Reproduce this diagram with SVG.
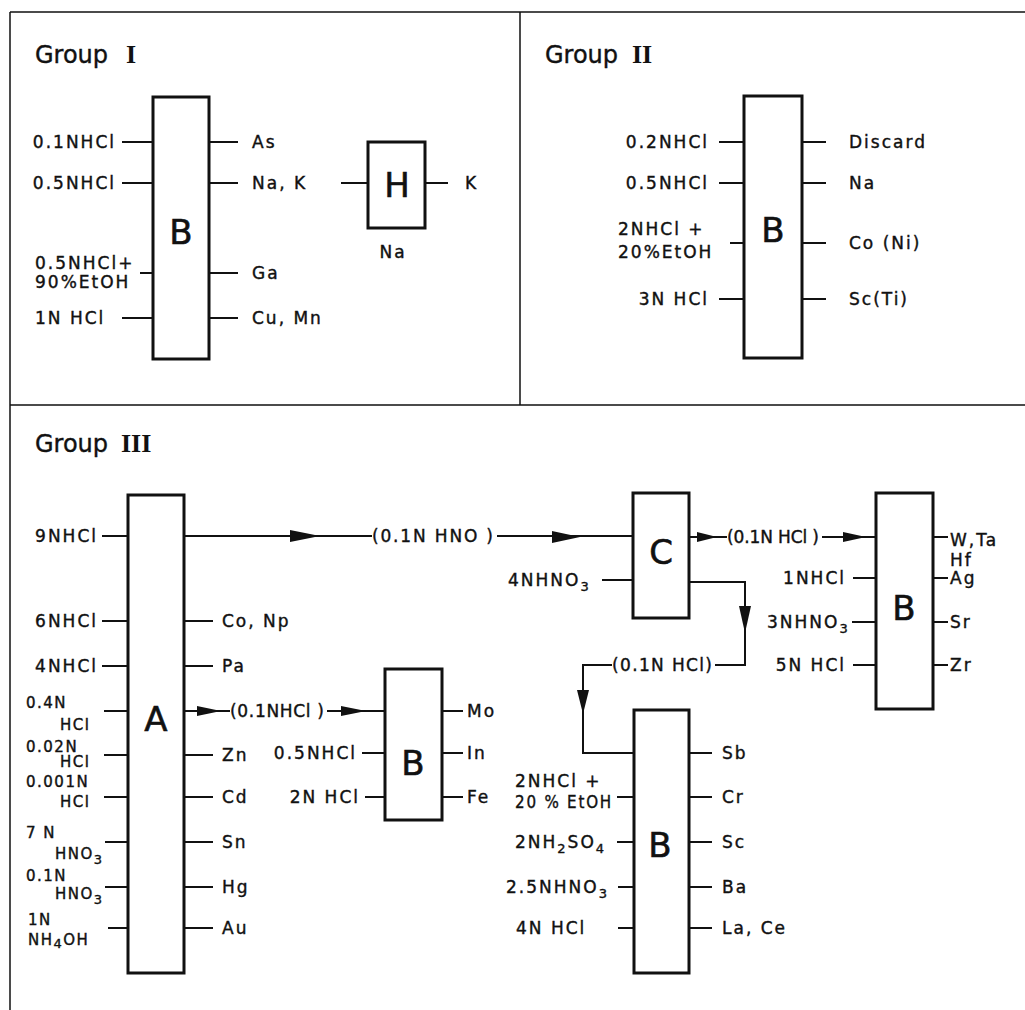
<svg xmlns="http://www.w3.org/2000/svg" width="1025" height="1010" viewBox="0 0 1025 1010">
<style>
.t{font-family:"DejaVu Sans","Liberation Sans",sans-serif;font-size:17px;letter-spacing:2px;fill:#111;stroke:#111;stroke-width:0.4}
.n{font-size:15px;letter-spacing:1.5px}
.e{text-anchor:end}
.s{font-size:13px}
.big{font-family:"DejaVu Sans","Liberation Sans",sans-serif;font-size:34px;text-anchor:middle;fill:#111;stroke:#111;stroke-width:0.6}
.hd{font-family:"DejaVu Sans","Liberation Sans",sans-serif;font-size:24px;fill:#111;stroke:#111;stroke-width:0.4}
.rn{font-family:"Liberation Serif",serif;font-size:26px;font-weight:bold;fill:#111}
.box{fill:#fff;stroke:#111;stroke-width:3}
.ln{stroke:#111;stroke-width:2;fill:none}
.fr{stroke:#111;stroke-width:1.5;fill:none}
.ah{fill:#111}
</style>
<g id="frame">
<path class="fr" d="M10 12H1025M10 12V1010M520 12V405M10 405H1025"/>
<text class="hd" x="35" y="63">Group</text><text class="rn" x="126" y="63">I</text>
<text class="hd" x="545" y="63">Group</text><text class="rn" x="632" y="63">II</text>
<text class="hd" x="35" y="452">Group</text><text class="rn" x="121" y="452">III</text>
</g>
<g id="connectors">
<path class="ln" d="M122 142H153M122 183H153M140 273H153M122 318H153M209 142H238M209 183H238M209 273H238M209 318H238M341 183H368M425 183H448"/>
<path class="ln" d="M719 142H744M719 183H744M730 243H744M719 299H744M802 142H826M802 183H826M802 243H826M802 299H826"/>
<path class="ln" d="M102 536H128M102 621H128M102 666H128M104 711H128M104 755H128M104 797H128M105 842H128M105 887H128M108 928H128"/>
<path class="ln" d="M184 621H213M184 666H213M184 755H213M184 797H213M184 842H213M184 887H213M184 928H213"/>
<path class="ln" d="M184 536H372M497 536H633"/>
<polygon class="ah" points="290,530 320,536 290,542"/>
<polygon class="ah" points="552,531 580,537 552,543"/>
<path class="ln" d="M184 711H230M327 711H385"/>
<polygon class="ah" points="197,706 221,711 197,716"/>
<polygon class="ah" points="341,706 366,711 341,716"/>
<path class="ln" d="M362 753H385M365 797H385M442 711H463M442 753H463M442 797H463"/>
<path class="ln" d="M602 580H633M689 537H727M822 537H876"/>
<polygon class="ah" points="697,532 717,537 697,542"/>
<polygon class="ah" points="843,532 866,537 843,542"/>
<path class="ln" d="M689 582H745V665H715M612 665H583V753H634"/>
<polygon class="ah" points="739,606 745,633 751,606"/>
<polygon class="ah" points="577,690 583,714 589,690"/>
<path class="ln" d="M853 578H876M852 622H876M853 665H876M933 537H948M933 578H948M933 622H948M933 665H948"/>
<path class="ln" d="M617 797H634M617 842H634M618 887H634M618 928H634M689 753H712M689 797H712M689 842H712M689 887H712M689 928H712"/>
</g>
<g id="g1-B">
<rect class="box" x="153" y="97" width="56" height="262"/>
<text class="big" x="181" y="244">B</text>
<text class="t e" x="116" y="148">0.1NHCl</text>
<text class="t e" x="116" y="189">0.5NHCl</text>
<text class="t" x="35" y="269">0.5NHCl+</text>
<text class="t" x="35" y="288">90%EtOH</text>
<text class="t" x="35" y="324">1N HCl</text>
<text class="t" x="252" y="148">As</text>
<text class="t" x="252" y="189">Na, K</text>
<text class="t" x="252" y="279">Ga</text>
<text class="t" x="252" y="324">Cu, Mn</text>
</g>
<g id="g1-H">
<rect class="box" x="368" y="142" width="57" height="86"/>
<text class="big" x="397" y="197">H</text>
<text class="t" x="465" y="189">K</text>
<text class="t" x="393" y="258" text-anchor="middle">Na</text>
</g>
<g id="g2-B">
<rect class="box" x="744" y="96" width="58" height="262"/>
<text class="big" x="773" y="242">B</text>
<text class="t e" x="709" y="148">0.2NHCl</text>
<text class="t e" x="709" y="189">0.5NHCl</text>
<text class="t" x="618" y="235">2NHCl +</text>
<text class="t" x="618" y="258">20%EtOH</text>
<text class="t e" x="709" y="305">3N HCl</text>
<text class="t" x="849" y="148">Discard</text>
<text class="t" x="849" y="189">Na</text>
<text class="t" x="849" y="249">Co (Ni)</text>
<text class="t" x="849" y="305">Sc(Ti)</text>
</g>
<g id="g3-A">
<rect class="box" x="128" y="495" width="56" height="478"/>
<text class="big" x="156" y="731">A</text>
<text class="t e" x="98" y="542">9NHCl</text>
<text class="t e" x="98" y="627">6NHCl</text>
<text class="t e" x="98" y="672">4NHCl</text>
<text class="t n" x="26" y="708">0.4N</text><text class="t n" x="60" y="730">HCl</text>
<text class="t n" x="26" y="752">0.02N</text><text class="t n" x="60" y="767">HCl</text>
<text class="t n" x="26" y="787">0.001N</text><text class="t n" x="60" y="807">HCl</text>
<text class="t n" x="26" y="838">7 N</text><text class="t n" x="55" y="859">HNO<tspan class="s" dy="5">3</tspan></text>
<text class="t n" x="26" y="881">0.1N</text><text class="t n" x="55" y="899">HNO<tspan class="s" dy="5">3</tspan></text>
<text class="t n" x="28" y="925">1N</text><text class="t n" x="28" y="945">NH<tspan class="s" dy="3">4</tspan><tspan dy="-3">OH</tspan></text>
<text class="t" x="222" y="627">Co, Np</text>
<text class="t" x="222" y="672">Pa</text>
<text class="t" x="222" y="761">Zn</text>
<text class="t" x="222" y="803">Cd</text>
<text class="t" x="222" y="848">Sn</text>
<text class="t" x="222" y="893">Hg</text>
<text class="t" x="222" y="934">Au</text>
</g>
<g id="g3-labels">
<text class="t" x="372" y="542" textLength="123" lengthAdjust="spacing">(0.1N HNO )</text>
<text class="t" x="230" y="717" textLength="96" lengthAdjust="spacing">(0.1NHCl )</text>
<text class="t" x="727" y="543" textLength="94" lengthAdjust="spacing">(0.1N HCl )</text>
<text class="t" x="612" y="671" textLength="102" lengthAdjust="spacing">(0.1N HCl)</text>
</g>
<g id="g3-Bmid">
<rect class="box" x="385" y="669" width="57" height="151"/>
<text class="big" x="413" y="775">B</text>
<text class="t e" x="357" y="759">0.5NHCl</text>
<text class="t e" x="360" y="803">2N HCl</text>
<text class="t" x="467" y="717">Mo</text>
<text class="t" x="467" y="759">In</text>
<text class="t" x="467" y="803">Fe</text>
</g>
<g id="g3-C">
<rect class="box" x="633" y="493" width="56" height="125"/>
<text class="big" x="661" y="564">C</text>
<text class="t" x="508" y="586">4NHNO<tspan class="s" dy="5">3</tspan></text>
</g>
<g id="g3-Bright">
<rect class="box" x="876" y="493" width="57" height="216"/>
<text class="big" x="904" y="620">B</text>
<text class="t e" x="846" y="584">1NHCl</text>
<text class="t" x="767" y="628">3NHNO<tspan class="s" dy="5">3</tspan></text>
<text class="t e" x="846" y="671">5N HCl</text>
<text class="t" x="950" y="546">W,Ta</text>
<text class="t" x="950" y="566">Hf</text>
<text class="t" x="950" y="584">Ag</text>
<text class="t" x="950" y="628">Sr</text>
<text class="t" x="950" y="671">Zr</text>
</g>
<g id="g3-Bbottom">
<rect class="box" x="634" y="710" width="55" height="263"/>
<text class="big" x="660" y="857">B</text>
<text class="t" x="515" y="787">2NHCl +</text>
<text class="t" x="515" y="808" textLength="98" lengthAdjust="spacingAndGlyphs">20 % EtOH</text>
<text class="t" x="515" y="848">2NH<tspan class="s" dy="5">2</tspan><tspan dy="-5">SO</tspan><tspan class="s" dy="5">4</tspan></text>
<text class="t" x="506" y="893">2.5NHNO<tspan class="s" dy="5">3</tspan></text>
<text class="t" x="516" y="934">4N HCl</text>
<text class="t" x="722" y="759">Sb</text>
<text class="t" x="722" y="803">Cr</text>
<text class="t" x="722" y="848">Sc</text>
<text class="t" x="722" y="893">Ba</text>
<text class="t" x="722" y="934">La, Ce</text>
</g>
</svg>
